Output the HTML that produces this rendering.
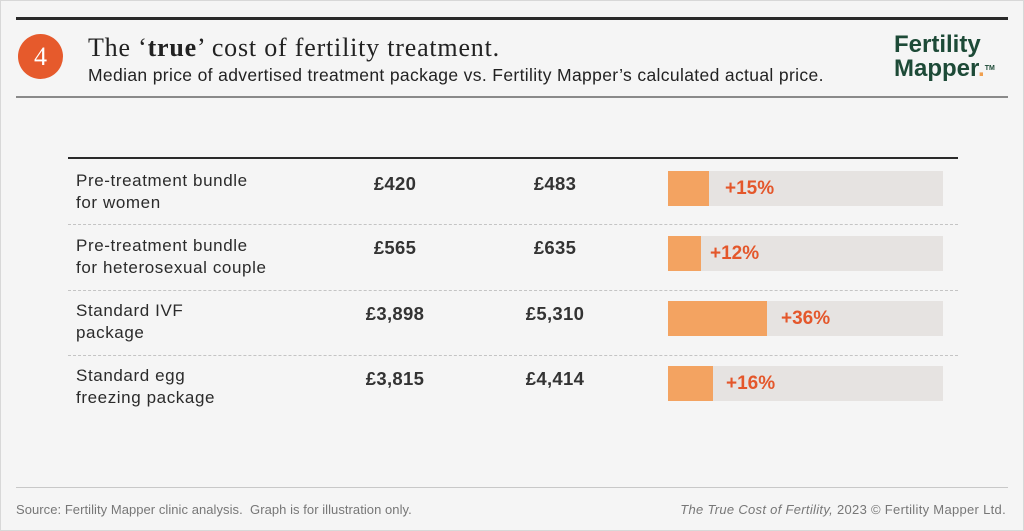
<!DOCTYPE html><html><head><style>
body{margin:0;width:1024px;height:531px;background:#f5f5f5;font-family:"Liberation Sans",sans-serif;position:relative;overflow:hidden;color:#2b2b2b}
.a{position:absolute}
.lbl{left:76px;font-size:17px;letter-spacing:0.6px;line-height:21.5px;color:#2b2b2b}
.p{font-size:18.5px;letter-spacing:0.3px;font-weight:bold;color:#333;width:120px;text-align:center}
.bg{left:668px;width:275px;height:35px;background:#e6e3e1}
.or{left:0;top:0;height:35px;background:#f3a361}
.pc{font-size:19px;font-weight:bold;color:#e4572b;top:7px}
.dash{left:68px;width:890px;border-top:1px dashed #c4c4c4}
</style></head><body>
<div class="a" style="left:0;top:0;width:1022px;height:529px;border:1px solid #d8d8d8"></div>
<div class="a" style="left:16px;top:17px;width:992px;height:3px;background:#2a2a2a"></div>
<div class="a" style="left:18px;top:34px;width:45px;height:45px;border-radius:50%;background:#e65a2c;color:#fff;font-family:'Liberation Serif',serif;font-size:26px;text-align:center;line-height:45px">4</div>
<div class="a" style="left:88px;top:33px;font-family:'Liberation Serif',serif;font-size:26px;color:#222;letter-spacing:0.8px">The ‘<b>true</b>’ cost of fertility treatment.</div>
<div class="a" style="left:88px;top:65px;font-size:17.5px;letter-spacing:0.35px;color:#222">Median price of advertised treatment package vs. Fertility Mapper’s calculated actual price.</div>
<div class="a" style="left:894px;top:33px;font-size:24px;line-height:24px;font-weight:bold;color:#1d4a37">Fertility<br>Mapper<span style="color:#f0a050">.</span><span style="font-size:7px;vertical-align:top">TM</span></div>
<div class="a" style="left:16px;top:96px;width:992px;height:2px;background:#8a8a8a"></div>
<div class="a" style="left:68px;top:157px;width:890px;height:2px;background:#2a2a2a"></div>

<div class="a lbl" style="top:170px">Pre-treatment bundle<br>for women</div>
<div class="a p" style="left:335px;top:173px">£420</div>
<div class="a p" style="left:495px;top:173px">£483</div>
<div class="a bg" style="top:171px"><div class="a or" style="width:41px"></div><div class="a pc" style="left:57px">+15%</div></div>
<div class="a dash" style="top:224px"></div>

<div class="a lbl" style="top:235px">Pre-treatment bundle<br>for heterosexual couple</div>
<div class="a p" style="left:335px;top:237px">£565</div>
<div class="a p" style="left:495px;top:237px">£635</div>
<div class="a bg" style="top:236px"><div class="a or" style="width:33px"></div><div class="a pc" style="left:42px">+12%</div></div>
<div class="a dash" style="top:290px"></div>

<div class="a lbl" style="top:300px">Standard IVF<br>package</div>
<div class="a p" style="left:335px;top:303px">£3,898</div>
<div class="a p" style="left:495px;top:303px">£5,310</div>
<div class="a bg" style="top:301px"><div class="a or" style="width:99px"></div><div class="a pc" style="left:113px">+36%</div></div>
<div class="a dash" style="top:355px"></div>

<div class="a lbl" style="top:365px">Standard egg<br>freezing package</div>
<div class="a p" style="left:335px;top:368px">£3,815</div>
<div class="a p" style="left:495px;top:368px">£4,414</div>
<div class="a bg" style="top:366px"><div class="a or" style="width:45px"></div><div class="a pc" style="left:58px">+16%</div></div>

<div class="a" style="left:16px;top:487px;width:992px;height:1px;background:#c8c8c8"></div>
<div class="a" style="left:16px;top:502px;font-size:13px;letter-spacing:0.05px;color:#777">Source: Fertility Mapper clinic analysis.&nbsp; Graph is for illustration only.</div>
<div class="a" style="right:18px;top:502px;font-size:13px;letter-spacing:0.3px;color:#777"><i>The True Cost of Fertility,</i> 2023 © Fertility Mapper Ltd.</div>
</body></html>
